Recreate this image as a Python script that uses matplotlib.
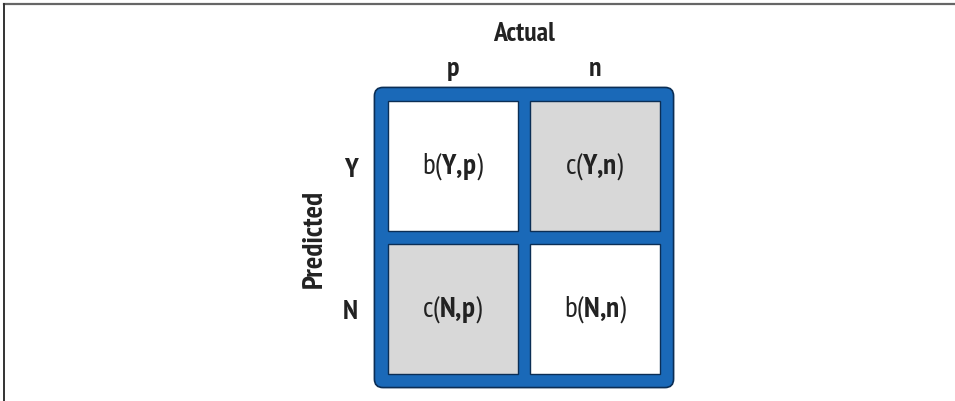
import matplotlib
matplotlib.use('Agg')
import matplotlib.pyplot as plt
from matplotlib import font_manager
from matplotlib.patches import FancyBboxPatch, Rectangle
from matplotlib.lines import Line2D

# 字体：窄体无衬线
names = {f.name for f in font_manager.fontManager.ttflist}
font = next((n for n in ['PT Sans Narrow', 'Fira Sans Condensed', 'Roboto Condensed']
             if n in names), 'DejaVu Sans')
plt.rcParams['font.family'] = [font, 'DejaVu Sans']
plt.rcParams['mathtext.fontset'] = 'custom'
plt.rcParams['mathtext.rm'] = font
plt.rcParams['mathtext.bf'] = font + ':bold'

# 数据
actual_labels = ['p', 'n']
predicted_labels = ['Y', 'N']
cell_prefix = [['b', 'c'],
               ['c', 'b']]
is_cost = [[False, True],
           [True, False]]

blue = '#1a69b8'
edge_dark = '#0b2e55'
gray = '#d8d8d8'
ink = '#222222'

fig = plt.figure(figsize=(9.55, 4.02), dpi=100)
fig.patch.set_facecolor('white')

# 外边框线（上、左）
fig.add_artist(Line2D([4 / 955, 1], [1 - 5 / 402, 1 - 5 / 402], color='#666666', lw=1.6))
fig.add_artist(Line2D([4 / 955, 4 / 955], [0, 1 - 5 / 402], color='#333333', lw=1.4))

ax = fig.add_axes([373 / 955, 12 / 402, 302 / 955, 303 / 402])
lim = 0.56
ax.set_xlim(-lim, 1 + lim)
ax.set_ylim(1 + lim, -lim)

# 蓝色底框
ax.add_patch(FancyBboxPatch((-lim + 0.01, -lim + 0.01), 1 + 2 * lim - 0.02, 1 + 2 * lim - 0.02,
                            boxstyle='round,pad=0,rounding_size=0.06',
                            facecolor=blue, edgecolor=edge_dark, lw=1.2, zorder=1))

half = 0.455
for r, row in enumerate(predicted_labels):
    for c, col in enumerate(actual_labels):
        fc = gray if is_cost[r][c] else 'white'
        ax.add_patch(Rectangle((c - half, r - half), 2 * half, 2 * half,
                               facecolor=fc, edgecolor=edge_dark, lw=1.0, zorder=2))
        label = cell_prefix[r][c] + '($\\mathbf{' + row + '{,}' + col + '}$)'
        ax.text(c, r, label, ha='center', va='center', fontsize=21,
                color=ink, zorder=3)

ax.set_xticks(range(len(actual_labels)))
ax.set_xticklabels(actual_labels, fontsize=20, fontweight='bold')
ax.set_yticks(range(len(predicted_labels)))
ax.set_yticklabels(predicted_labels, fontsize=20, fontweight='bold')
ax.xaxis.tick_top()
ax.xaxis.set_label_position('top')
ax.tick_params(length=0, colors=ink)
ax.tick_params(axis='x', pad=4)
ax.tick_params(axis='y', pad=11)
ax.set_xlabel('Actual', fontsize=20, fontweight='bold', labelpad=12, color=ink)
ax.set_ylabel('Predicted', fontsize=21, fontweight='bold', labelpad=11, color=ink)
for s in ax.spines.values():
    s.set_visible(False)

fig.savefig('out.png', dpi=100)
